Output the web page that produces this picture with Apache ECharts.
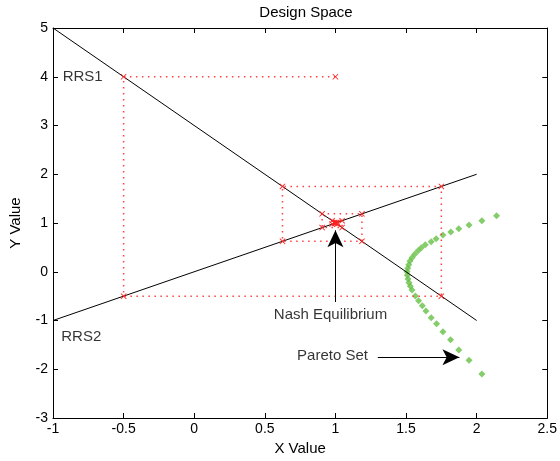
<!DOCTYPE html>
<html><head><meta charset="utf-8">
<script src="https://cdn.jsdelivr.net/npm/echarts@6/dist/echarts.min.js"></script>
<style>html,body{margin:0;padding:0;background:#fff}#c{width:560px;height:461px}</style>
</head><body><div id="c"></div>
<script>
// Reaction curves
const rrs1X = [-1, 2];
const rrs1Y = [5, -1];
const rrs2X = [-1, 2];
const rrs2Y = [-1, 2];
// Best-response iteration path
const iterX = [1, -0.5, -0.5, 1.75, 1.75, 0.625, 0.625, 1.1875, 1.1875, 0.906, 0.906, 1.047, 1.047, 0.977, 0.977, 1.012, 1.012, 0.994, 0.994, 1.003, 1.003];
const iterY = [4, 4, -0.5, -0.5, 1.75, 1.75, 0.625, 0.625, 1.1875, 1.1875, 0.906, 0.906, 1.047, 1.047, 0.977, 0.977, 1.012, 1.012, 0.994, 0.994, 1.003];
// Pareto set
const paretoX = [2.141, 2.037, 1.946, 1.873, 1.817, 1.761, 1.713, 1.678, 1.636, 1.608, 1.585, 1.561, 1.542, 1.528, 1.519, 1.512, 1.507, 1.509, 1.514, 1.521, 1.530, 1.542, 1.566, 1.589, 1.615, 1.641, 1.678, 1.716, 1.761, 1.815, 1.873, 1.946, 2.037];
const paretoY = [1.15, 1.047, 0.959, 0.883, 0.815, 0.754, 0.678, 0.617, 0.556, 0.494, 0.432, 0.358, 0.288, 0.221, 0.145, 0.070, 0.001, -0.073, -0.149, -0.224, -0.299, -0.374, -0.497, -0.594, -0.696, -0.805, -0.942, -1.065, -1.229, -1.394, -1.605, -1.817, -2.097];
// Text annotations
const labelText = ['RRS1', 'RRS2', 'Nash Equilibrium', 'Pareto Set'];
const labelX = [-0.79, -0.8, 0.965, 0.979];
const labelY = [4, -1.33, -0.887, -1.722];
// Arrows: [x0, y0, x1, y1]
const arrowNash = [1.0, -0.62, 1.0, 0.85];
const arrowPareto = [1.30, -1.755, 1.878, -1.755];
// Ticks
const xTicks = [-1, 2.5, 0.5];
const yTicks = [-3, 5, 1];

const FONT = 'Liberation Sans, Arial, sans-serif';
const pair = (xs, ys) => xs.map((x, i) => [x, ys[i]]);
const xMark = 'path://M0,1L1,0L5,4L9,0L10,1L6,5L10,9L9,10L5,6L1,10L0,9L4,5Z';

const axisCommon = {
  type: 'value',
  axisLine: { show: true, onZero: false, lineStyle: { color: '#000', width: 1 } },
  axisTick: { show: true, inside: true, length: 5, lineStyle: { color: '#000' } },
  splitLine: { show: false },
  axisLabel: { color: '#000', fontSize: 14, fontFamily: FONT }
};

const chart = echarts.init(document.getElementById('c'), null, { renderer: 'canvas' });
chart.setOption({
  animation: false,
  backgroundColor: '#fff',
  title: {
    text: 'Design Space', left: 301, top: 0, textAlign: 'center',
    textStyle: { fontSize: 15, fontWeight: 'normal', color: '#000', fontFamily: FONT }
  },
  grid: { left: 53, right: 10, top: 28, bottom: 43 },
  xAxis: [
    Object.assign({}, axisCommon, {
      position: 'bottom', min: xTicks[0], max: xTicks[1], interval: xTicks[2],
      name: 'X Value', nameLocation: 'middle', nameGap: 22,
      nameTextStyle: { color: '#000', fontSize: 15, fontFamily: FONT },
      axisLabel: Object.assign({}, axisCommon.axisLabel, { margin: 4 })
    }),
    Object.assign({}, axisCommon, {
      position: 'top', min: xTicks[0], max: xTicks[1], interval: xTicks[2],
      axisLabel: { show: false }
    })
  ],
  yAxis: [
    Object.assign({}, axisCommon, {
      position: 'left', min: yTicks[0], max: yTicks[1], interval: yTicks[2],
      name: 'Y Value', nameLocation: 'middle', nameGap: 30,
      nameTextStyle: { color: '#000', fontSize: 15, fontFamily: FONT },
      axisLabel: Object.assign({}, axisCommon.axisLabel, { margin: 5 })
    }),
    Object.assign({}, axisCommon, {
      position: 'right', min: yTicks[0], max: yTicks[1], interval: yTicks[2],
      axisLabel: { show: false }
    })
  ],
  series: [
    {
      type: 'line', data: pair(rrs1X, rrs1Y), showSymbol: false, symbol: 'none',
      lineStyle: { color: '#000', width: 1 }, silent: true
    },
    {
      type: 'line', data: pair(rrs2X, rrs2Y), showSymbol: false, symbol: 'none',
      lineStyle: { color: '#000', width: 1 }, silent: true
    },
    {
      type: 'line', data: pair(iterX, iterY), symbol: xMark, symbolSize: 6, showAllSymbol: true,
      itemStyle: { color: '#ff2020' },
      lineStyle: { color: '#ff4040', width: 1.5, type: [1.5, 4.5] }, silent: true, z: 3
    },
    {
      type: 'scatter', data: pair(paretoX, paretoY), symbol: 'diamond', symbolSize: 7,
      itemStyle: { color: '#66bf46' }, silent: true
    },
    {
      type: 'scatter', symbolSize: 0, silent: true,
      data: labelText.map((t, i) => ({ name: t, value: [labelX[i], labelY[i]] })),
      label: {
        show: true, position: 'inside', formatter: p => p.name,
        color: '#000', fontSize: 15, fontFamily: FONT
      },
      markLine: {
        silent: true, symbol: ['none', 'arrow'], symbolSize: [12, 17],
        label: { show: false },
        lineStyle: { color: '#000', width: 1, type: 'solid' },
        data: [
          [{ coord: [arrowNash[0], arrowNash[1]] }, { coord: [arrowNash[2], arrowNash[3]] }],
          [{ coord: [arrowPareto[0], arrowPareto[1]] }, { coord: [arrowPareto[2], arrowPareto[3]] }]
        ]
      }
    }
  ]
});
</script>
</body></html>
